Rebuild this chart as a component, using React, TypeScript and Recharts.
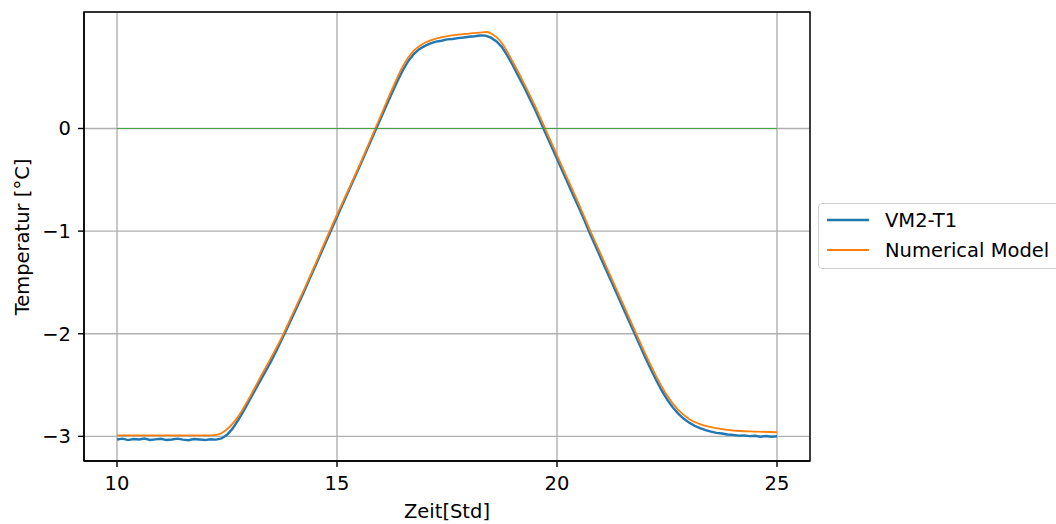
import { LineChart, Line, XAxis, YAxis, CartesianGrid, ReferenceArea, Legend } from 'recharts'

const FONT = '"DejaVu Sans", Verdana, sans-serif'
const FS = 19.5

// measured sensor VM2-T1, sampled every 7.5 min
const measuredHours = [
  10, 10.125, 10.25, 10.375, 10.5, 10.625, 10.75, 10.875, 11, 11.125, 11.25, 11.375, 11.5, 11.625, 11.75, 11.875,
  12, 12.125, 12.25, 12.375, 12.5, 12.625, 12.75, 12.875, 13, 13.125, 13.25, 13.375, 13.5, 13.625, 13.75, 13.875,
  14, 14.125, 14.25, 14.375, 14.5, 14.625, 14.75, 14.875, 15, 15.125, 15.25, 15.375, 15.5, 15.625, 15.75, 15.875,
  16, 16.125, 16.25, 16.375, 16.5, 16.625, 16.75, 16.875, 17, 17.125, 17.25, 17.375, 17.5, 17.625, 17.75, 17.875,
  18, 18.125, 18.25, 18.375, 18.5, 18.625, 18.75, 18.875, 19, 19.125, 19.25, 19.375, 19.5, 19.625, 19.75, 19.875,
  20, 20.125, 20.25, 20.375, 20.5, 20.625, 20.75, 20.875, 21, 21.125, 21.25, 21.375, 21.5, 21.625, 21.75, 21.875,
  22, 22.125, 22.25, 22.375, 22.5, 22.625, 22.75, 22.875, 23, 23.125, 23.25, 23.375, 23.5, 23.625, 23.75, 23.875,
  24, 24.125, 24.25, 24.375, 24.5, 24.625, 24.75, 24.875, 25,
]
const measuredTemps = [
  -3.03, -3.022, -3.036, -3.026, -3.031, -3.021, -3.035, -3.029, -3.024, -3.036, -3.03, -3.022, -3.032, -3.037, -3.026, -3.031,
  -3.036, -3.028, -3.032, -3.02, -2.985, -2.925, -2.845, -2.755, -2.658, -2.56, -2.462, -2.368, -2.27, -2.162, -2.052, -1.94,
  -1.825, -1.708, -1.59, -1.468, -1.348, -1.226, -1.104, -0.982, -0.862, -0.742, -0.622, -0.502, -0.382, -0.262, -0.14, -0.018,
  0.104, 0.226, 0.346, 0.462, 0.57, 0.66, 0.728, 0.775, 0.805, 0.83, 0.846, 0.855, 0.868, 0.872, 0.881, 0.886,
  0.894, 0.899, 0.906, 0.905, 0.885, 0.848, 0.793, 0.708, 0.612, 0.508, 0.404, 0.296, 0.184, 0.066, -0.056, -0.176,
  -0.296, -0.416, -0.536, -0.657, -0.776, -0.896, -1.026, -1.146, -1.266, -1.386, -1.506, -1.626, -1.746, -1.866, -1.986, -2.106,
  -2.226, -2.338, -2.448, -2.55, -2.638, -2.714, -2.776, -2.826, -2.866, -2.897, -2.92, -2.94, -2.953, -2.966, -2.972, -2.982,
  -2.985, -2.993, -2.99, -2.998, -2.994, -3.003, -2.997, -3.004, -2.999,
]

// numerical model
const modelHours = [
  10, 11, 12, 12.25, 12.5, 12.75, 13, 13.25, 13.5, 13.75, 14, 14.25, 14.5, 14.75, 15, 15.25, 15.5, 15.75,
  16, 16.25, 16.5, 16.75, 17, 17.25, 17.5, 17.75, 18, 18.25, 18.4, 18.5, 18.75, 19, 19.25, 19.5, 19.75,
  20, 20.25, 20.5, 20.75, 21, 21.25, 21.5, 21.75, 22, 22.25, 22.5, 22.75, 23, 23.25, 23.5, 23.75, 24, 24.5, 25,
]
const modelTemps = [
  -2.99, -2.99, -2.99, -2.985, -2.93, -2.81, -2.63, -2.43, -2.235, -2.03, -1.8, -1.57, -1.33, -1.08, -0.84, -0.605, -0.37, -0.12,
  0.13, 0.38, 0.61, 0.76, 0.835, 0.875, 0.9, 0.915, 0.925, 0.935, 0.94, 0.925, 0.83, 0.645, 0.44, 0.22, -0.02,
  -0.26, -0.5, -0.74, -0.99, -1.23, -1.47, -1.71, -1.95, -2.19, -2.41, -2.6, -2.74, -2.83, -2.88, -2.91, -2.93, -2.943, -2.953, -2.96,
]

// freezing point reference
const zeroHours = [10, 25]
const zeroTemps = [0, 0]

const xTicks = [10, 15, 20, 25]
const yTicks = [-3, -2, -1, 0]
const xDomain: [number, number] = [9.25, 25.75]
const yDomain: [number, number] = [-3.24, 1.135]

const legendEntries = [
  { label: 'VM2-T1', color: '#1f77b4' },
  { label: 'Numerical Model', color: '#ff7f0e' },
]

const toPoints = (xs: number[], ys: number[]) => xs.map((t, i) => ({ t, v: ys[i] }))

const measured = toPoints(measuredHours, measuredTemps)
const model = toPoints(modelHours, modelTemps)
const zero = toPoints(zeroHours, zeroTemps)

const fmtY = (v: number) => (v < 0 ? '\u2212' + Math.abs(v) : String(v))

const tickStyle = { fill: '#000', fontSize: FS, fontFamily: FONT }
const axisStroke = { stroke: '#000', strokeWidth: 1.4 }

const XLabel = () => (
  <text x={447} y={518} textAnchor="middle" fontSize={FS} fontFamily={FONT} fill="#000">
    Zeit[Std]
  </text>
)

const YLabel = () => (
  <text
    x={29}
    y={237}
    transform="rotate(-90 29 237)"
    textAnchor="middle"
    fontSize={FS}
    fontFamily={FONT}
    fill="#000"
  >
    Temperatur [°C]
  </text>
)

const LegendBox = () => (
  <div
    style={{
      width: 250,
      height: 66,
      boxSizing: 'border-box',
      border: '1.4px solid #d0d0d0',
      borderRadius: 4,
      background: 'rgba(255,255,255,0.8)',
    }}
  >
    <svg width={248} height={63} style={{ display: 'block' }}>
      {legendEntries.map((e, i) => (
        <g key={e.label}>
          <line x1={8} x2={50} y1={16 + i * 30} y2={16 + i * 30} stroke={e.color} strokeWidth={i === 0 ? 2.4 : 1.8} />
          <text x={66} y={23 + i * 30} fontSize={FS} fontFamily={FONT} fill="#000">
            {e.label}
          </text>
        </g>
      ))}
    </svg>
  </div>
)

export default function App() {
  return (
    <div
      style={{
        position: 'fixed',
        left: 0,
        top: 0,
        width: 1056,
        height: 524,
        overflow: 'hidden',
        background: '#fff',
      }}
    >
      <LineChart width={1056} height={524} margin={{ top: 12, right: 246, bottom: 13, left: 24 }}>
        <CartesianGrid stroke="#b0b0b0" strokeWidth={1.4} />
        <XAxis
          type="number"
          dataKey="t"
          domain={xDomain}
          ticks={xTicks}
          allowDataOverflow
          height={50}
          tickSize={6}
          tickMargin={9}
          tick={tickStyle}
          axisLine={axisStroke}
          tickLine={axisStroke}
          label={<XLabel />}
        />
        <YAxis
          type="number"
          dataKey="v"
          domain={yDomain}
          ticks={yTicks}
          allowDataOverflow
          width={60}
          tickSize={6}
          tickMargin={7}
          tick={tickStyle}
          tickFormatter={fmtY}
          axisLine={axisStroke}
          tickLine={axisStroke}
          label={<YLabel />}
        />
        <Line
          data={measured}
          dataKey="v"
          name="VM2-T1"
          type="linear"
          stroke="#1f77b4"
          strokeWidth={2.4}
          dot={false}
          isAnimationActive={false}
        />
        <Line
          data={model}
          dataKey="v"
          name="Numerical Model"
          type="monotone"
          stroke="#ff7f0e"
          strokeWidth={1.8}
          dot={false}
          isAnimationActive={false}
        />
        <Line
          data={zero}
          dataKey="v"
          type="linear"
          stroke="#2ca02c"
          strokeOpacity={0.8}
          strokeWidth={1.2}
          dot={false}
          legendType="none"
          isAnimationActive={false}
        />
        <ReferenceArea
          x1={xDomain[0]}
          x2={xDomain[1]}
          y1={yDomain[0]}
          y2={yDomain[1]}
          fill="none"
          stroke="#000"
          strokeWidth={1.4}
        />
        <Legend
          layout="horizontal"
          verticalAlign="middle"
          align="center"
          wrapperStyle={{ left: 818, top: 203, width: 250, height: 66 }}
          content={() => <LegendBox />}
        />
      </LineChart>
    </div>
  )
}
